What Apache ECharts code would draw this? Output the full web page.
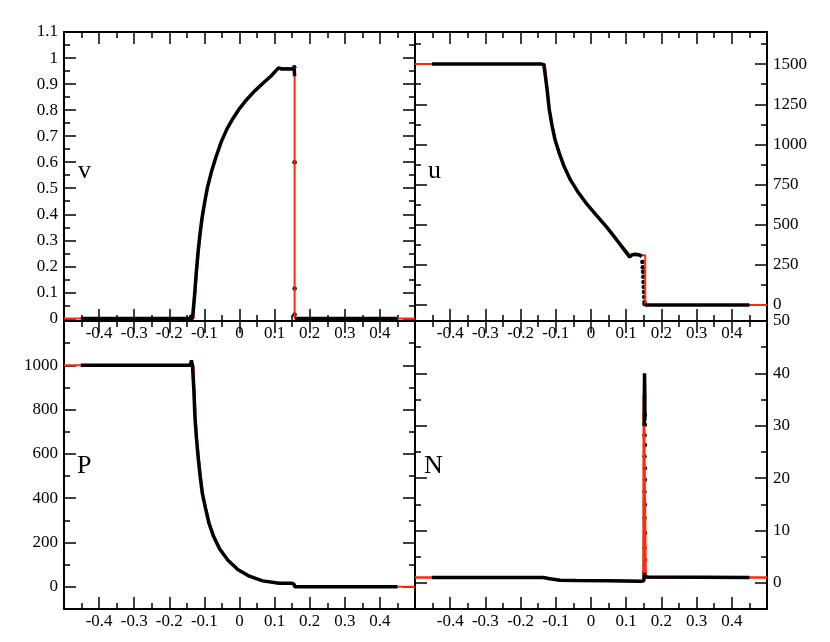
<!DOCTYPE html>
<html>
<head>
<meta charset="utf-8">
<script src="https://cdn.jsdelivr.net/npm/echarts@6/dist/echarts.min.js"></script>
<style>
  html, body { margin: 0; padding: 0; background: #fff; }
  #chart { width: 830px; height: 642px; }
</style>
</head>
<body>
<div id="chart"></div>
<script>
/* v panel */
const vExactX = [-0.5, -0.131, -0.126, -0.121, -0.116, -0.111, -0.105, -0.098, -0.090, -0.080, -0.067, -0.052, -0.036, -0.019, 0, 0.019, 0.042, 0.066, 0.090, 0.112, 0.157, 0.157, 0.5]
const vExactY = [0, 0, 0.09, 0.179, 0.256, 0.32, 0.384, 0.448, 0.505, 0.563, 0.62, 0.678, 0.727, 0.767, 0.806, 0.838, 0.872, 0.902, 0.931, 0.962, 0.962, 0, 0]
const vNumX = [-0.452, -0.14, -0.134, -0.128, -0.123, -0.118, -0.113, -0.107, -0.099, -0.091, -0.080, -0.067, -0.052, -0.036, -0.019, 0, 0.019, 0.042, 0.066, 0.090, 0.111, 0.12, 0.156, 0.157]
const vNumY = [0, 0, 0, 0.09, 0.179, 0.256, 0.32, 0.384, 0.448, 0.505, 0.563, 0.62, 0.678, 0.727, 0.767, 0.806, 0.838, 0.872, 0.902, 0.931, 0.962, 0.958, 0.958, 0.93]
const vNumRightX = [0.158, 0.45]
const vNumRightY = [0, 0]
const vDotX = [-0.138, 0.157, 0.157, 0.157, 0.156]
const vDotY = [0.006, 0.6, 0.115, 0.015, 0.965]

/* u panel */
const uExactX = [-0.5, -0.131, -0.128, -0.123, -0.118, -0.110, -0.101, -0.089, -0.075, -0.057, -0.035, -0.010, 0.016, 0.045, 0.073, 0.111, 0.154, 0.154, 0.5]
const uExactY = [1500, 1500, 1432, 1328, 1224, 1120, 1027, 944, 860, 777, 700, 626, 559, 486, 408, 310, 310, 0, 0]
const uNumX = [-0.452, -0.14, -0.137, -0.134, -0.130, -0.124, -0.119, -0.111, -0.102, -0.090, -0.076, -0.058, -0.036, -0.011, 0.015, 0.044, 0.072, 0.110, 0.116, 0.124, 0.132, 0.140, 0.144]
const uNumY = [1500, 1500, 1512, 1495, 1432, 1328, 1224, 1120, 1027, 944, 860, 777, 700, 626, 559, 486, 408, 298, 312, 316, 314, 310, 300]
const uNumRightX = [0.153, 0.45]
const uNumRightY = [0, 0]
const uDotX = [0.146, 0.147, 0.148, 0.1485, 0.149, 0.150, 0.1505, 0.151, 0.152, 0.152]
const uDotY = [268, 235, 206, 175, 143, 112, 81, 50, 19, 6]

/* P panel */
const pExactX = [-0.5, -0.131, -0.128, -0.125, -0.121, -0.116, -0.110, -0.104, -0.095, -0.085, -0.072, -0.055, -0.031, -0.003, 0.030, 0.068, 0.114, 0.156, 0.156, 0.5]
const pExactY = [1000, 1000, 887, 767, 677, 587, 497, 422, 355, 287, 228, 172, 120, 78, 48, 27, 16, 16, 0, 0]
const pNumX = [-0.452, -0.14, -0.137, -0.134, -0.130, -0.127, -0.123, -0.118, -0.112, -0.106, -0.097, -0.087, -0.074, -0.057, -0.033, -0.005, 0.028, 0.066, 0.113, 0.150, 0.154, 0.156, 0.157, 0.45]
const pNumY = [1000, 1000, 1022, 1000, 887, 767, 677, 587, 497, 422, 355, 287, 228, 172, 120, 78, 48, 27, 16, 16, 22, 10, 0, 0]

/* N panel */
const nExactX = [-0.5, -0.131, -0.117, -0.088, -0.041, 0.047, 0.149, 0.150, 0.154, 0.155, 0.5]
const nExactY = [1, 1, 0.76, 0.5, 0.44, 0.38, 0.32, 36, 36, 1, 1]
const nNumX = [-0.452, -0.136, -0.117, -0.088, -0.041, 0.047, 0.143, 0.150, 0.152]
const nNumY = [1, 1, 0.76, 0.5, 0.44, 0.38, 0.32, 0.4, 1.9]
const nNumTopX = [0.151, 0.152, 0.153, 0.153]
const nNumTopY = [30, 40, 36, 31]
const nNumRightX = [0.154, 0.16, 0.45]
const nNumRightY = [1.3, 1.1, 1]
const nDotX = [0.152, 0.153, 0.152, 0.153, 0.152, 0.153, 0.152, 0.153, 0.153, 0.152, 0.153, 0.152, 0.153, 0.153]
const nDotY = [1.9, 4.4, 6.7, 9.5, 12.4, 14.9, 17.4, 19.7, 21.9, 24.1, 26.3, 28.2, 30.2, 32.1]

/* axis ticks */
const vTicks = [0, 0.1, 0.2, 0.3, 0.4, 0.5, 0.6, 0.7, 0.8, 0.9, 1, 1.1]
const vMinor = [0.05, 0.15, 0.25, 0.35, 0.45, 0.55, 0.65, 0.75, 0.85, 0.95, 1.05]
const uTicks = [0, 250, 500, 750, 1000, 1250, 1500]
const uMinor = [125, 375, 625, 875, 1125, 1375, 1625]
const pTicks = [0, 200, 400, 600, 800, 1000]
const pMinor = [-100, 100, 300, 500, 700, 900, 1100]
const nTicks = [0, 10, 20, 30, 40, 50]
const nMinor = [-5, 5, 15, 25, 35, 45]

const RED = '#ff2a0a'
const font = '"Liberation Serif", "DejaVu Serif", serif'

const panels = [
  { grid: { left: 64, top: 32, width: 351, height: 289 }, min: -0.01, max: 1.1, side: 'left', major: vTicks, minor: vMinor, name: 'v', nx: 78, ny: 158 },
  { grid: { left: 415, top: 32, width: 352, height: 289 }, min: -100, max: 1700, side: 'right', major: uTicks, minor: uMinor, name: 'u', nx: 428, ny: 158 },
  { grid: { left: 64, top: 321, width: 351, height: 288 }, min: -100, max: 1200, side: 'left', major: pTicks, minor: pMinor, name: 'P', nx: 77, ny: 453 },
  { grid: { left: 415, top: 321, width: 352, height: 288 }, min: -5, max: 50, side: 'right', major: nTicks, minor: nMinor, name: 'N', nx: 424, ny: 453 }
]

const axisLine = { show: true, onZero: false, lineStyle: { color: '#000', width: 2 } }
const tickStyle = { color: '#000', width: 1.5 }

const xAxes = []
const yAxes = []
panels.forEach((p, g) => {
  /*x: bottom with labels, top mirror*/
  ;['bottom', 'top'].forEach(pos => {
    xAxes.push({
      gridIndex: g, type: 'value', position: pos, min: -0.5, max: 0.5, interval: 0.1,
      axisLine,
      axisTick: { show: true, inside: true, length: 12, lineStyle: tickStyle },
      minorTick: { show: true, splitNumber: 2, length: 6, lineStyle: tickStyle },
      axisLabel: {
        show: pos === 'bottom', showMinLabel: false, showMaxLabel: false,
        margin: 4, color: '#000', fontSize: 17, fontFamily: font
      },
      splitLine: { show: false }
    })
  })
  /*y: labelled side then opposite side, each with major and minor ticks*/
  const other = p.side === 'left' ? 'right' : 'left'
  ;[p.side, other].forEach((pos, k) => {
    yAxes.push({
      gridIndex: g, type: 'value', position: pos, min: p.min, max: p.max,
      axisLine,
      axisTick: { show: true, inside: true, length: 12, customValues: p.major, lineStyle: tickStyle },
      axisLabel: {
        show: k === 0, customValues: p.major, margin: 6,
        color: '#000', fontSize: 17, fontFamily: font,
        formatter: v => String(v)
      },
      splitLine: { show: false }
    })
    yAxes.push({
      gridIndex: g, type: 'value', position: pos, min: p.min, max: p.max,
      axisLine: { show: false, onZero: false },
      axisTick: { show: true, inside: true, length: 6, customValues: p.minor, lineStyle: tickStyle },
      axisLabel: { show: false },
      splitLine: { show: false }
    })
  })
})

const zip = (xs, ys) => xs.map((x, i) => [x, ys[i]])
const line = (g, xs, ys, color, width) => ({
  type: 'line', xAxisIndex: 2 * g, yAxisIndex: 4 * g, data: zip(xs, ys),
  symbol: 'none', lineStyle: { color, width }, silent: true
})
const dots = (g, xs, ys) => ({
  type: 'scatter', xAxisIndex: 2 * g, yAxisIndex: 4 * g, data: zip(xs, ys),
  symbolSize: 4.5, itemStyle: { color: '#000', opacity: 1 }, silent: true
})

const series = [
  line(0, vExactX, vExactY, RED, 2),
  line(0, vNumX, vNumY, '#000', 3.5),
  line(0, vNumRightX, vNumRightY, '#000', 3.5),
  dots(0, vDotX, vDotY),

  line(1, uExactX, uExactY, RED, 2),
  line(1, uNumX, uNumY, '#000', 3.5),
  line(1, uNumRightX, uNumRightY, '#000', 3.5),
  dots(1, uDotX, uDotY),

  line(2, pExactX, pExactY, RED, 2),
  line(2, pNumX, pNumY, '#000', 3.5),

  line(3, nExactX, nExactY, RED, 2.5),
  line(3, nNumX, nNumY, '#000', 3.5),
  line(3, nNumTopX, nNumTopY, '#000', 3.5),
  line(3, nNumRightX, nNumRightY, '#000', 3.5),
  dots(3, nDotX, nDotY)
]

const chart = echarts.init(document.getElementById('chart'), null, { renderer: 'canvas' })
chart.setOption({
  animation: false,
  backgroundColor: '#fff',
  grid: panels.map(p => Object.assign({ containLabel: false, outerBoundsMode: 'none' }, p.grid)),
  xAxis: xAxes,
  yAxis: yAxes,
  series,
  graphic: panels.map(p => ({
    type: 'text', left: p.nx, top: p.ny,
    style: { text: p.name, fill: '#000', font: '26px ' + font }
  }))
})
</script>
</body>
</html>
